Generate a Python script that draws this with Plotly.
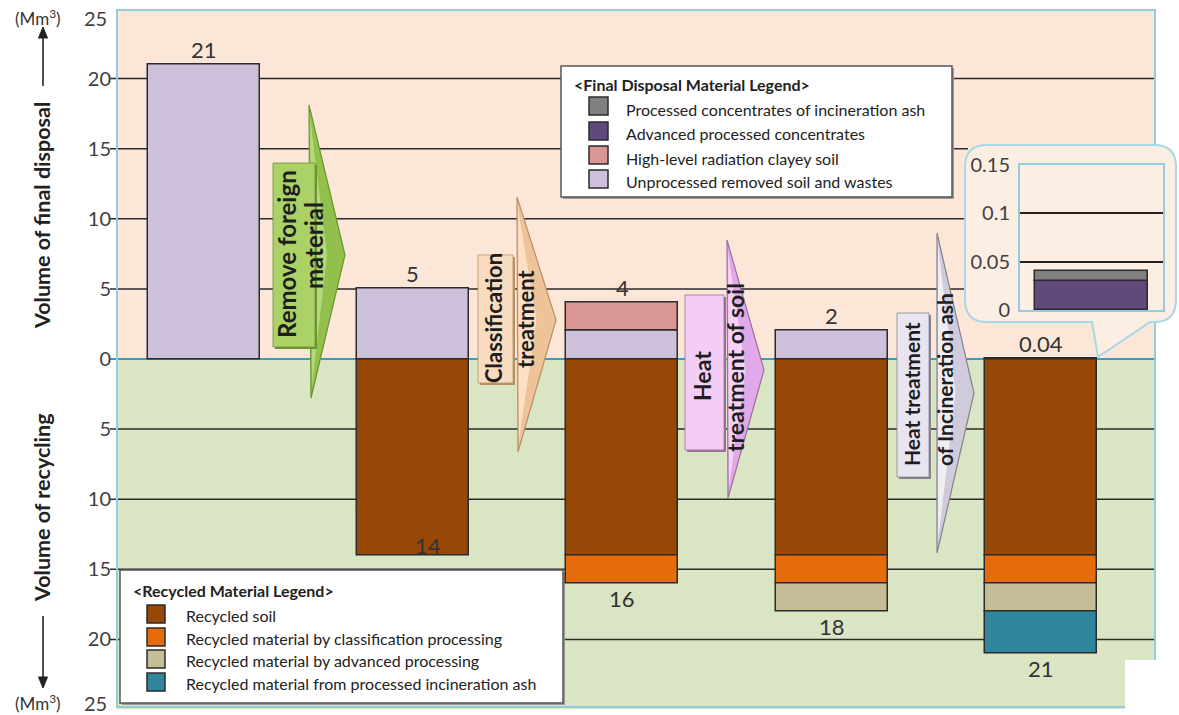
import plotly.graph_objects as go

W, H = 1179, 715

# ---- data (Mm3) -----------------------------------------------------------
stages = [0, 1, 2, 3, 4]

# final disposal, stacked upward
unprocessed = [21, 5, 2, 2, None]
clayey_soil = [None, None, 2, None, None]
advanced_conc = [None, None, None, None, 0.03]
ash_conc = [None, None, None, None, 0.01]

# recycling, stacked downward
recycled_soil = [None, 14, 14, 14, 14]
recycled_class = [None, None, 2, 2, 2]
recycled_adv = [None, None, None, 2, 2]
recycled_ash = [None, None, None, None, 3]

main_ticks = [-20, -15, -10, -5, 0, 5, 10, 15, 20]
main_tick_text = [str(abs(v)) for v in main_ticks]
edge_ticks = [25, -25]
inset_ticks = [0, 0.05, 0.1, 0.15]
inset_tick_text = ["0", "0.05", "0.1", "0.15"]

final_legend = ["Processed concentrates of incineration ash",
                "Advanced processed concentrates",
                "High-level radiation clayey soil",
                "Unprocessed removed soil and wastes"]
recycled_legend = ["Recycled soil",
                   "Recycled material by classification processing",
                   "Recycled material by advanced processing",
                   "Recycled material from processed incineration ash"]
process_steps = [["Remove foreign", "material"],
                 ["Classification", "treatment"],
                 ["Heat", "treatment of soil"],
                 ["Heat treatment", "of Incineration ash"]]

# ---- styling -------------------------------------------------------------
C_LAV = "#ccc0da"
C_PINK = "#da9694"
C_PURPLE = "#604a7b"
C_GRAY = "#808080"
C_BROWN = "#974706"
C_ORANGE = "#e46c0a"
C_TAN = "#c4bd97"
C_TEAL = "#31859c"
PEACH = "#fce6d8"
GREEN = "#d9e5c3"
FRAME = "#93cddd"
EDGE = "#2b2b2b"
TXT = "#333333"
FONT = "Lato"


def px(x):
    return x / W


def py(y):
    return 1 - y / H


def path(points, close=True):
    s = "M " + " L ".join(f"{px(x):.5f},{py(y):.5f}" for x, y in points)
    return s + (" Z" if close else "")


def rect(x0, y0, x1, y1, fill, line=None, lw=0, layer="below"):
    return dict(type="rect", xref="paper", yref="paper",
                x0=px(x0), x1=px(x1), y0=py(y1), y1=py(y0),
                fillcolor=fill, line=dict(color=line or fill, width=lw),
                layer=layer)


def note(x, y, text, size, color="#222", xanchor="center", angle=0):
    return dict(x=px(x), y=py(y), xref="paper", yref="paper", text=text,
                showarrow=False, xanchor=xanchor, yanchor="middle",
                textangle=angle, font=dict(size=size, color=color))


fig = go.Figure()

BAR_W = 0.535
bar_line = dict(color=EDGE, width=1.5)


def neg(vals):
    return [-v if v is not None else None for v in vals]


for vals, col in [(unprocessed, C_LAV), (clayey_soil, C_PINK),
                  (advanced_conc, C_PURPLE), (ash_conc, C_GRAY)]:
    fig.add_trace(go.Bar(x=stages, y=vals, width=BAR_W, marker_color=col,
                         marker_line=bar_line, xaxis="x", yaxis="y",
                         hoverinfo="skip"))
for vals, col in [(recycled_soil, C_BROWN), (recycled_class, C_ORANGE),
                  (recycled_adv, C_TAN), (recycled_ash, C_TEAL)]:
    fig.add_trace(go.Bar(x=stages, y=neg(vals), width=BAR_W, marker_color=col,
                         marker_line=bar_line, xaxis="x", yaxis="y",
                         hoverinfo="skip"))

# magnified view of the last stage's final disposal
inset_x = [stages[-1]]
for vals, col in [(advanced_conc, C_PURPLE), (ash_conc, C_GRAY)]:
    fig.add_trace(go.Bar(x=inset_x, y=[vals[-1]], width=0.79, marker_color=col,
                         marker_line=bar_line, xaxis="x2", yaxis="y2",
                         hoverinfo="skip"))


def total(*series):
    out = []
    for i in range(len(stages)):
        parts = [s[i] for s in series if s[i] is not None]
        out.append(round(sum(parts), 3) if parts else None)
    return out


top_total = total(unprocessed, clayey_soil, advanced_conc, ash_conc)
bottom_total = total(recycled_soil, recycled_class, recycled_adv, recycled_ash)

annotations = []
for i, t in zip(stages, top_total):
    if t is not None:
        annotations.append(dict(x=i, y=t, xref="x", yref="y", text=f"{t:g}",
                                showarrow=False, yanchor="middle", yshift=15,
                                font=dict(size=22, color=TXT)))
for i, t in zip(stages, bottom_total):
    if t is None:
        continue
    inside = i == 1
    annotations.append(dict(x=i, y=-t, xref="x", yref="y", text=f"{t:g}",
                            showarrow=False, yanchor="middle",
                            yshift=10 if inside else -15,
                            xshift=15 if inside else 0,
                            font=dict(size=22, color=TXT)))

# edge tick labels
for v, shift in zip(edge_ticks, [-9, 7]):
    annotations.append(dict(x=px(109), y=v, xref="paper", yref="y",
                            text=str(abs(v)), showarrow=False, xanchor="right",
                            yanchor="middle", yshift=shift,
                            font=dict(size=20, color="#404040")))

# axis titles
annotations += [
    note(42, 216, "<b>Volume of final disposal</b>", 21.5, angle=-90),
    note(42, 508, "<b>Volume of recycling</b>", 21.5, angle=-90),
    note(38, 18, "(Mm<sup>3</sup>)", 17, TXT),
    note(38, 702, "(Mm<sup>3</sup>)", 17, TXT),
]

shapes = []
# direction arrows next to the axis titles
shapes.append(dict(type="line", xref="paper", yref="paper", x0=px(43), x1=px(43),
                   y0=py(86), y1=py(34), line=dict(color="#222", width=1.6)))
shapes.append(dict(type="path", xref="paper", yref="paper",
                   path=path([(43, 27), (38.5, 38), (47.5, 38)]),
                   fillcolor="#222", line=dict(color="#222", width=1)))
shapes.append(dict(type="line", xref="paper", yref="paper", x0=px(43), x1=px(43),
                   y0=py(616), y1=py(680), line=dict(color="#222", width=1.6)))
shapes.append(dict(type="path", xref="paper", yref="paper",
                   path=path([(43, 688), (38.5, 677), (47.5, 677)]),
                   fillcolor="#222", line=dict(color="#222", width=1)))

# panel backgrounds
shapes.append(dict(type="rect", xref="paper", yref="y", x0=px(117), x1=px(1155),
                   y0=0, y1=25, fillcolor=PEACH, line=dict(width=0), layer="below"))
shapes.append(dict(type="rect", xref="paper", yref="y", x0=px(117), x1=px(1155),
                   y0=-25, y1=0, fillcolor=GREEN, line=dict(width=0), layer="below"))

# horizontal grid lines; the ones behind the magnified view stop at its edge
for v in main_ticks:
    if v == 0:
        continue
    x_end = 968 if v in (5, 10, 15) else 1155
    shapes.append(dict(type="line", xref="paper", yref="y", x0=px(110),
                       x1=px(x_end), y0=v, y1=v,
                       line=dict(color="#2a2a2a", width=1.5), layer="below"))
shapes.append(dict(type="line", xref="paper", yref="y", x0=px(110), x1=px(1155),
                   y0=0, y1=0, line=dict(color="#3c9cc0", width=2.2),
                   layer="below"))

# plot frame
shapes.append(dict(type="rect", xref="paper", yref="paper", x0=px(117),
                   x1=px(1155), y0=py(707), y1=py(10),
                   line=dict(color=FRAME, width=2), fillcolor="rgba(0,0,0,0)",
                   layer="below"))

# legend panels
shapes.append(rect(563, 68, 954, 199, "#9a9a9a"))
shapes.append(rect(561, 66, 952, 197, "white", "#555555", 1.5))
shapes.append(rect(122, 572, 565, 705, "#9a9a9a"))
shapes.append(rect(120, 570, 563, 703, "white", "#555555", 1.5))

final_colors = [C_GRAY, C_PURPLE, C_PINK, C_LAV]
final_rows = [106, 131, 155, 179]
for col, yc in zip(final_colors, final_rows):
    shapes.append(rect(589, yc - 9, 608, yc + 9, col, EDGE, 1.5))
recycled_colors = [C_BROWN, C_ORANGE, C_TAN, C_TEAL]
recycled_rows = [614, 637, 659, 682]
for col, yc in zip(recycled_colors, recycled_rows):
    shapes.append(rect(147, yc - 9, 165, yc + 9, col, EDGE, 1.5))

annotations.append(note(572, 85, "<b>&lt;Final Disposal Material Legend&gt;</b>",
                        16, xanchor="left"))
for name, yc in zip(final_legend, final_rows):
    annotations.append(note(624, yc + 3, name, 16, xanchor="left"))
annotations.append(note(131, 590, "<b>&lt;Recycled Material Legend&gt;</b>",
                        16, xanchor="left"))
for name, yc in zip(recycled_legend, recycled_rows):
    annotations.append(note(184, yc + 1, name, 16, xanchor="left"))

# process arrows between the stages
arrow_geo = [
    dict(tri=[(309, 105), (345, 255), (311, 398)], box=(273, 163, 315, 347),
         fill="#93c04c", light="#b3d97a", edge="#6a9530", boxfill="#acd267",
         lines=[(286, 254), (313, 246)], fs=24),
    dict(tri=[(517, 197), (556, 320), (518, 452)], box=(478, 255, 513, 383),
         fill="#efc398", light="#fbe0c6", edge="#b98f66", boxfill="#f9dcc0",
         lines=[(493, 318), (525, 319)], fs=22),
    dict(tri=[(727, 240), (764, 370), (728, 498)], box=(685, 295, 724, 450),
         fill="#e2a9e8", light="#f6d2f8", edge="#9a6f9e", boxfill="#f3cdf5",
         lines=[(702, 376), (735, 368)], fs=23),
    dict(tri=[(937, 233), (974, 393), (937, 553)], box=(897, 313, 929, 477),
         fill="#cfcbdb", light="#f0eef5", edge="#85828f", boxfill="#e9e5f0",
         lines=[(911, 394), (944, 380)], fs=21),
]
for g, label in zip(arrow_geo, process_steps):
    (xt, yt), (xr, yr), (xb, yb) = g["tri"]
    shapes.append(dict(type="path", xref="paper", yref="paper",
                       path=path(g["tri"]), fillcolor=g["fill"],
                       line=dict(color=g["edge"], width=1.2), layer="below"))
    # lighter band along the left edge for a rounded look
    shapes.append(dict(type="path", xref="paper", yref="paper",
                       path=path([(xt + 1, yt + 12), (xt + (xr - xt) * 0.5, yr),
                                  (xb + 1, yb - 12)]),
                       fillcolor=g["light"], line=dict(width=0), layer="below"))
    x0, y0, x1, y1 = g["box"]
    shapes.append(rect(x0 + 2, y0 + 2, x1 + 2, y1 + 2, g["edge"]))
    shapes.append(rect(x0, y0, x1, y1, g["boxfill"], g["edge"], 0.8))
    for (lx, ly), txt in zip(g["lines"], label):
        annotations.append(note(lx, ly, f"<b>{txt}</b>", g["fs"], "#1e1e1e",
                                angle=-90))

# callout bubble behind the magnified view
L, T, R, B, r = 965, 145, 1176, 322, 22
bubble = (f"M {px(L + r)},{py(T)} L {px(R - r)},{py(T)} "
          f"Q {px(R)},{py(T)} {px(R)},{py(T + r)} L {px(R)},{py(B - r)} "
          f"Q {px(R)},{py(B)} {px(R - r)},{py(B)} L {px(1150)},{py(B)} "
          f"L {px(1098)},{py(357)} L {px(1092)},{py(B)} L {px(L + r)},{py(B)} "
          f"Q {px(L)},{py(B)} {px(L)},{py(B - r)} L {px(L)},{py(T + r)} "
          f"Q {px(L)},{py(T)} {px(L + r)},{py(T)} Z")
shapes.append(dict(type="path", xref="paper", yref="paper", path=bubble,
                   fillcolor="#fdeee4", line=dict(color="#a6d8e6", width=2),
                   layer="below"))

# blank patch in the lower right corner
shapes.append(rect(1125, 660, 1179, 715, "white"))

fig.update_layout(
    width=W, height=H,
    margin=dict(l=0, r=0, t=0, b=0, autoexpand=False),
    paper_bgcolor="white", plot_bgcolor="rgba(0,0,0,0)",
    barmode="relative", bargap=0, showlegend=False,
    font=dict(family=FONT, color=TXT),
    xaxis=dict(domain=[px(115), px(1155)], range=[-0.423, 4.545],
               visible=False, fixedrange=True),
    yaxis=dict(domain=[py(709.5), py(8.5)], range=[-25, 25],
               tickvals=main_ticks, ticktext=main_tick_text, ticks="",
               showgrid=False, zeroline=False, showline=False,
               tickfont=dict(size=20, color="#404040"), ticklabelstandoff=3,
               fixedrange=True),
    xaxis2=dict(domain=[px(1020), px(1163)], range=[3.5, 4.5], anchor="y2",
                showticklabels=False, ticks="", showgrid=False, zeroline=False,
                showline=True, mirror=True, linecolor=FRAME, linewidth=2,
                fixedrange=True),
    yaxis2=dict(domain=[py(310), py(165)], range=[0, 0.15], anchor="x2",
                tickvals=inset_ticks, ticktext=inset_tick_text, ticks="",
                showgrid=True, gridcolor="#222", gridwidth=1.5, zeroline=False,
                showline=True, mirror=True, linecolor=FRAME, linewidth=2,
                tickfont=dict(size=20, color="#404040"), ticklabelstandoff=4,
                fixedrange=True),
    shapes=shapes,
    annotations=annotations,
)

fig.write_html("out.html")
